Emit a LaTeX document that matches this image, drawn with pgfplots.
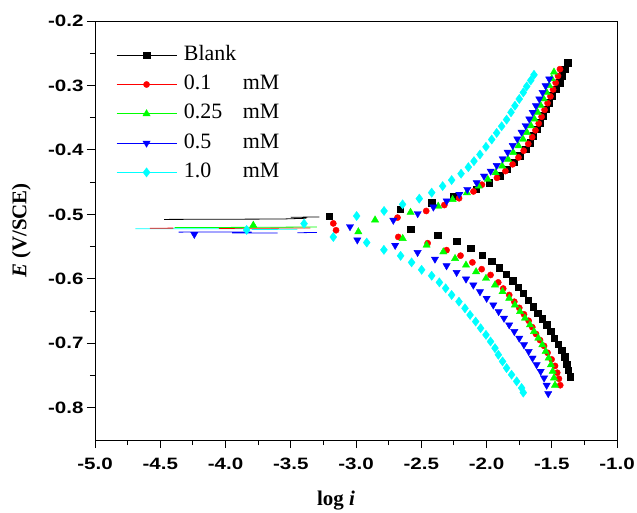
\documentclass[border=0pt]{standalone}
\usepackage{fontspec}
\setmainfont{Liberation Serif}
\setsansfont{Liberation Sans}[FakeStretch=1.25]
\usepackage{pgfplots}
\pgfplotsset{compat=1.18}
\definecolor{cgreen}{RGB}{0,255,0}
\definecolor{ccyan}{RGB}{0,255,255}
\begin{document}
\begin{tikzpicture}
\path[use as bounding box] (-95bp,-73bp) rectangle (542bp,440bp);
\begin{axis}[
  scale only axis, width=522bp, height=419bp,
  xmin=-5, xmax=-1, ymin=-0.85, ymax=-0.2,
  xtick={-5,-4.5,-4,-3.5,-3,-2.5,-2,-1.5,-1},
  ytick={-0.8,-0.7,-0.6,-0.5,-0.4,-0.3,-0.2},
  minor x tick num=1, minor y tick num=1,
  tick align=outside, tick pos=left,
  major tick length=8bp, minor tick length=5bp,
  every tick/.style={black, line width=0.9pt},
  axis line style={line width=0.9pt, black},
  /pgf/number format/assume math mode=true,
  xticklabel style={yshift=-7bp, /pgf/number format/.cd, fixed, fixed zerofill, precision=1},
  yticklabel style={/pgf/number format/.cd, fixed, fixed zerofill, precision=1},
  ticklabel style={font=\sffamily\bfseries\fontsize{16.5}{18}\selectfont},
  every axis y label/.style={at={(rel axis cs:-0.141,0.5)}, rotate=90, anchor=center},
  every axis x label/.style={at={(rel axis cs:0.4617,-0.1565)}, anchor=base},
  ylabel={\fontsize{21}{24}\selectfont\textbf{\textit{E} (V/SCE)}},
  xlabel={\fontsize{21}{24}\selectfont\textbf{log \textit{i}}},
  legend style={at={(rel axis cs:0,1)}, anchor=north west, xshift=21bp, yshift=-24bp,
    draw=none, fill=none, inner sep=0pt, font=\fontsize{22}{24}\selectfont,
    row sep=9.3bp, column sep=7bp,
    nodes={inner sep=0pt, text height=15bp, text depth=5bp}},
  legend cell align=left,
  legend image code/.code={
    \draw[#1, line width=0.7pt] (0bp,0bp) -- (60bp,0bp);
    \draw[#1] plot coordinates {(30bp,0bp)};
  },
]
% noise near corrosion potential
\addplot[forget plot, black, line width=0.8pt, no marks, unbounded coords=jump] coordinates {
 (-4.47,-0.5078) (-3.57,-0.5072) (-3.38,-0.5060) (nan,nan) (-3.50,-0.5045) (-3.28,-0.5040)};
\addplot[forget plot, ccyan, line width=0.8pt, no marks, unbounded coords=jump] coordinates {
 (-4.69,-0.5222) (-3.87,-0.5224) (nan,nan) (-3.80,-0.5235) (-3.45,-0.5230)};
\addplot[forget plot, red, line width=0.8pt, no marks, unbounded coords=jump] coordinates {
 (-4.58,-0.5215) (-4.40,-0.5213) (nan,nan) (-4.05,-0.5218) (-3.35,-0.5210)};
\addplot[forget plot, cgreen, line width=0.8pt, no marks, unbounded coords=jump] coordinates {
 (-4.39,-0.5205) (-3.70,-0.5200) (-3.30,-0.5195)};
\addplot[forget plot, blue, line width=0.8pt, no marks, unbounded coords=jump] coordinates {
 (-4.36,-0.5275) (-3.80,-0.5272) (nan,nan) (-3.95,-0.5290) (-3.60,-0.5290) (nan,nan) (-3.45,-0.5285) (-3.30,-0.5280)};

% Blank
\addplot[only marks, black, mark=square*, mark size=3.2bp] coordinates {
 (-1.360,-0.752) (-1.372,-0.742) (-1.385,-0.732) (-1.400,-0.721) (-1.424,-0.711) (-1.449,-0.701)
 (-1.480,-0.692) (-1.508,-0.681) (-1.539,-0.671) (-1.572,-0.662) (-1.608,-0.653) (-1.641,-0.643)
 (-1.680,-0.633) (-1.718,-0.622) (-1.756,-0.613) (-1.800,-0.603) (-1.851,-0.593) (-1.902,-0.583)
 (-1.961,-0.573) (-2.032,-0.563) (-2.121,-0.552) (-2.229,-0.542) (-2.374,-0.532) (-2.581,-0.523)
 (-3.205,-0.5025)
 (-2.66,-0.492) (-2.42,-0.482) (-2.25,-0.4715) (-2.08,-0.461) (-1.98,-0.451) (-1.90,-0.440)
 (-1.84,-0.430) (-1.79,-0.419) (-1.746,-0.409) (-1.70,-0.399) (-1.666,-0.389) (-1.64,-0.378)
 (-1.615,-0.368) (-1.59,-0.358) (-1.567,-0.347) (-1.544,-0.337) (-1.52,-0.327) (-1.496,-0.316)
 (-1.468,-0.306) (-1.44,-0.296) (-1.42,-0.285) (-1.40,-0.275) (-1.378,-0.2645)};
\addlegendentry{Blank}

% 0.1 mM
\addplot[only marks, red, mark=*, mark size=3.1bp] coordinates {
 (-1.435,-0.765) (-1.445,-0.755) (-1.458,-0.7456) (-1.475,-0.735) (-1.501,-0.725) (-1.532,-0.7147)
 (-1.559,-0.704) (-1.590,-0.695) (-1.621,-0.6855) (-1.649,-0.675) (-1.677,-0.665) (-1.713,-0.655)
 (-1.749,-0.645) (-1.787,-0.6355) (-1.826,-0.625) (-1.872,-0.615) (-1.910,-0.6055) (-1.969,-0.594)
 (-2.037,-0.585) (-2.108,-0.5745) (-2.199,-0.564) (-2.306,-0.5555) (-2.451,-0.5447) (-2.676,-0.535)
 (-3.153,-0.5246) (-3.174,-0.514)
 (-2.682,-0.505) (-2.462,-0.4947) (-2.323,-0.4855) (-2.21,-0.4750) (-2.10,-0.4644) (-2.035,-0.4539)
 (-1.92,-0.4433) (-1.855,-0.4328) (-1.80,-0.4223) (-1.755,-0.4117) (-1.715,-0.4012) (-1.68,-0.3906)
 (-1.65,-0.3801) (-1.625,-0.3696) (-1.60,-0.3590) (-1.578,-0.3485) (-1.555,-0.3379) (-1.532,-0.3274)
 (-1.51,-0.3169) (-1.49,-0.3063) (-1.47,-0.2958) (-1.452,-0.2852) (-1.437,-0.2747)};
\addlegendentry{\makebox[59bp][l]{0.1}mM}

% 0.25 mM
\addplot[only marks, cgreen, mark=triangle*, mark size=4.2bp] coordinates {
 (-1.475,-0.765) (-1.483,-0.7538) (-1.493,-0.7435) (-1.506,-0.7332) (-1.524,-0.7229) (-1.547,-0.7126)
 (-1.572,-0.7023) (-1.603,-0.692) (-1.636,-0.6817) (-1.667,-0.6714) (-1.705,-0.661) (-1.743,-0.6508)
 (-1.782,-0.6405) (-1.826,-0.6302) (-1.877,-0.6199) (-1.935,-0.6096) (-2.004,-0.5993) (-2.080,-0.589)
 (-2.157,-0.5787) (-2.241,-0.5685) (-2.331,-0.5582) (-2.459,-0.5478) (-2.642,-0.5374) (-2.982,-0.527)
 (-3.787,-0.5169)
 (-2.854,-0.5087) (-2.582,-0.4968) (-2.37,-0.4873) (-2.26,-0.4769) (-2.15,-0.4665) (-2.06,-0.4561)
 (-1.99,-0.4457) (-1.93,-0.4353) (-1.88,-0.4249) (-1.835,-0.4145) (-1.795,-0.4041) (-1.755,-0.3937)
 (-1.72,-0.3833) (-1.69,-0.3729) (-1.66,-0.3625) (-1.633,-0.3521) (-1.608,-0.3417) (-1.585,-0.3313)
 (-1.562,-0.3209) (-1.54,-0.3105) (-1.52,-0.3001) (-1.50,-0.2897) (-1.483,-0.2793)};
\addlegendentry{\makebox[59bp][l]{0.25}mM}

% 0.5 mM
\addplot[only marks, blue, mark=triangle*, mark options={rotate=180}, mark size=4.2bp] coordinates {
 (-1.527,-0.778) (-1.539,-0.7651) (-1.559,-0.7538) (-1.585,-0.7435) (-1.616,-0.7332) (-1.647,-0.7229)
 (-1.677,-0.7126) (-1.713,-0.7023) (-1.749,-0.692) (-1.787,-0.6817) (-1.826,-0.6714) (-1.866,-0.661)
 (-1.907,-0.6508) (-1.948,-0.6405) (-1.999,-0.6302) (-2.050,-0.6199) (-2.101,-0.6096) (-2.157,-0.6003)
 (-2.229,-0.590) (-2.306,-0.5797) (-2.395,-0.5694) (-2.528,-0.5591) (-2.700,-0.548)
 (-2.99,-0.5396) (-4.239,-0.5309) (-3.046,-0.519)
 (-2.714,-0.5091) (-2.527,-0.4988) (-2.407,-0.4886) (-2.305,-0.4792) (-2.208,-0.4689) (-2.147,-0.4612)
 (-2.075,-0.4509) (-2.019,-0.4406) (-1.968,-0.4329) (-1.922,-0.4241) (-1.876,-0.4138) (-1.838,-0.4035)
 (-1.799,-0.3932) (-1.764,-0.3829) (-1.731,-0.3726) (-1.700,-0.3623) (-1.672,-0.352) (-1.646,-0.3417)
 (-1.621,-0.3314) (-1.595,-0.321) (-1.570,-0.3108) (-1.547,-0.3005) (-1.519,-0.290)};
\addlegendentry{\makebox[59bp][l]{0.5}mM}

% 1.0 mM
\addplot[only marks, ccyan, mark=diamond*, mark size=4.6bp] coordinates {
 (-1.718,-0.7765) (-1.731,-0.7693) (-1.769,-0.759) (-1.808,-0.7487) (-1.846,-0.7384) (-1.877,-0.7281)
 (-1.909,-0.7178) (-1.935,-0.7075) (-1.969,-0.6972) (-2.004,-0.6869) (-2.045,-0.6766) (-2.083,-0.6663)
 (-2.126,-0.656) (-2.165,-0.6457) (-2.211,-0.6354) (-2.267,-0.625) (-2.313,-0.6147) (-2.361,-0.6055)
 (-2.420,-0.5952) (-2.497,-0.586) (-2.574,-0.5745) (-2.658,-0.5643) (-2.786,-0.555) (-2.918,-0.5437)
 (-3.174,-0.5351) (-3.838,-0.5241) (-3.398,-0.5144) (-2.995,-0.5025)
 (-2.785,-0.4947) (-2.643,-0.4844) (-2.515,-0.4756) (-2.420,-0.4663) (-2.336,-0.4561) (-2.267,-0.4468)
 (-2.195,-0.4369) (-2.139,-0.4267) (-2.096,-0.4174) (-2.050,-0.4071) (-2.004,-0.3952) (-1.960,-0.3839)
 (-1.922,-0.3736) (-1.884,-0.3633) (-1.846,-0.353) (-1.812,-0.3417) (-1.782,-0.3314) (-1.749,-0.321)
 (-1.718,-0.3108) (-1.692,-0.3015) (-1.661,-0.2922) (-1.636,-0.2835)};
\addlegendentry{\makebox[59bp][l]{1.0}mM}
\end{axis}
\end{tikzpicture}
\end{document}
